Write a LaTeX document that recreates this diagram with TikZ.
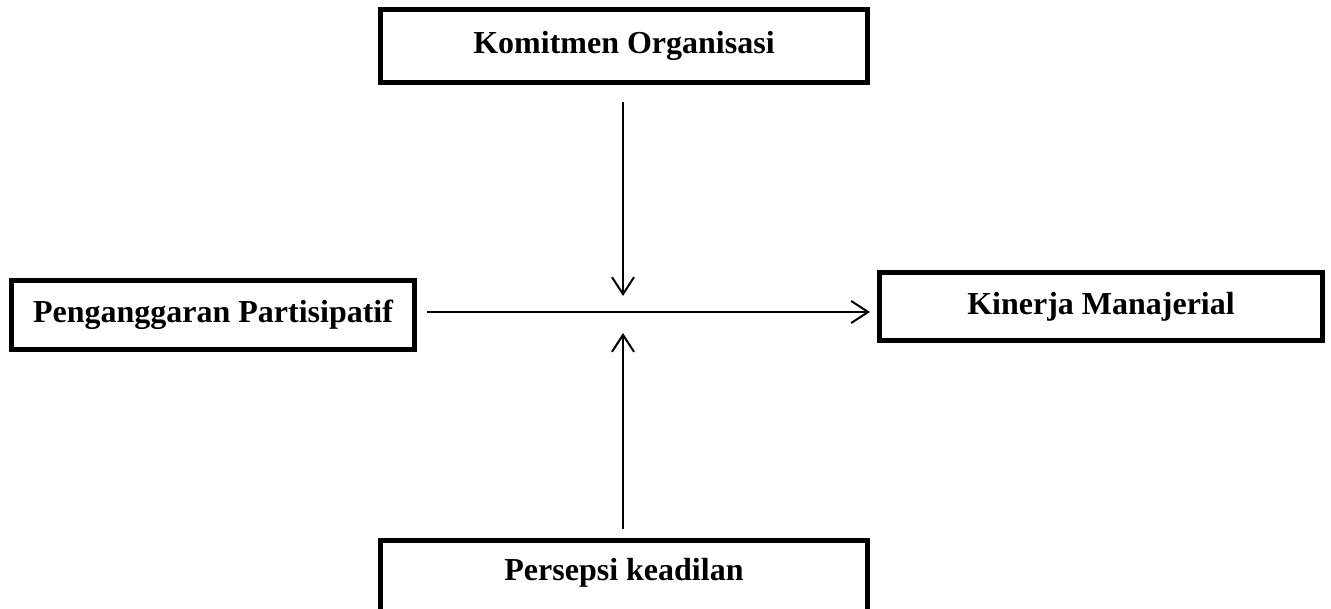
\documentclass[tikz,border=0pt]{standalone}
\usepackage{fontspec}
\setmainfont{Liberation Serif}
\usetikzlibrary{arrows.meta}
\begin{document}
\begin{tikzpicture}[x=1pt,y=-1pt,
  box/.style={draw, line width=5pt, inner sep=0pt, font=\fontsize{32}{38}\selectfont\bfseries, align=center},
  conn/.style={line width=2pt, -{Straight Barb[length=17pt,width=22pt]}}]
\useasboundingbox (0,0) rectangle (1331,609);
\clip (0,0) rectangle (1331,609);
\node[box, minimum width=487pt, minimum height=73pt] (top) at (624,46) {Komitmen Organisasi};
\node[box, minimum width=403pt, minimum height=69pt] (left) at (213,315) {Penganggaran Partisipatif};
\node[box, minimum width=443pt, minimum height=68pt] (right) at (1101,306.5) {Kinerja Manajerial};
\node[box, anchor=north, minimum width=487pt, text height=40pt, text depth=35pt] (bot) at (624,537.5) {Persepsi keadilan};
\coordinate (mid) at (623,312);
\draw[conn, shorten <=10pt, shorten >=7pt] (left.east |- mid) -- (right.west |- mid);
\draw[conn, shorten <=17pt, shorten >=16pt] (top.south -| mid) -- (mid);
\draw[conn, shorten <=9pt, shorten >=21pt] (bot.north -| mid) -- (mid);
\end{tikzpicture}
\end{document}
